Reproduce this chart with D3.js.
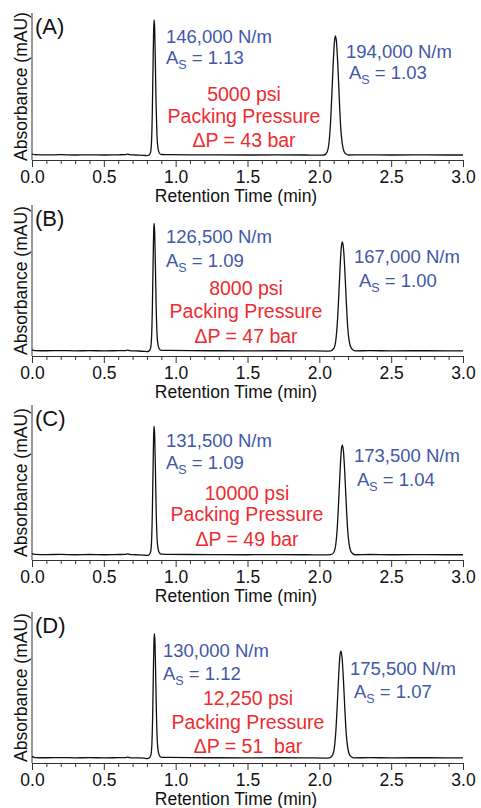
<!DOCTYPE html>
<html>
<head>
<meta charset="utf-8">
<script src="https://cdn.jsdelivr.net/npm/d3@7/dist/d3.min.js"></script>
<style>
  html, body { margin: 0; padding: 0; background: #fff; }
  svg { display: block; font-family: "Liberation Sans", Arial, sans-serif; }
</style>
</head>
<body>
<svg id="chart" width="481" height="808"></svg>
<script>
/* ── data ─────────────────────────────────────────────────────────── */
const panelLabels  = ['(A)', '(B)', '(C)', '(D)'];
const plates1      = ['146,000 N/m', '126,500 N/m', '131,500 N/m', '130,000 N/m'];
const asym1        = ['1.13', '1.09', '1.09', '1.12'];
const plates2      = ['194,000 N/m', '167,000 N/m', '173,500 N/m', '175,500 N/m'];
const asym2        = ['1.03', '1.00', '1.04', '1.07'];
const packingPsi   = ['5000 psi', '8000 psi', '10000 psi', '12,250 psi'];
const deltaP       = ['ΔP = 43 bar', 'ΔP = 47 bar', 'ΔP = 49 bar', 'ΔP = 51  bar'];

const xTicks      = [0.0, 0.5, 1.0, 1.5, 2.0, 2.5, 3.0];
const xMinorTicks = [0.1, 0.2, 0.3, 0.4, 0.6, 0.7, 0.8, 0.9, 1.1, 1.2, 1.3, 1.4,
                     1.6, 1.7, 1.8, 1.9, 2.1, 2.2, 2.3, 2.4, 2.6, 2.7, 2.8, 2.9];

/* chromatograms: [retention time (min), absorbance (mAU)] */
const traceA = [
  [0,1.0],[0.02,0.3],[0.1,0.1],[0.2,0.3],[0.3,0],[0.4,0.2],[0.5,0],[0.6,0.2],[0.65,0.3],[0.665,0.8],
  [0.68,0.3],[0.72,0],[0.78,-0.3],[0.80,-0.7],
  [0.815,0],[0.825,2.7],[0.832,13.5],[0.838,47],[0.843,94],[0.847,127],[0.850,135],[0.854,126],
  [0.859,89],[0.864,49],[0.870,19],[0.877,7],[0.886,2],[0.90,0.5],
  [0.95,0.4],[1.1,0.2],[1.3,0.1],[1.5,0],[1.7,0.1],[1.9,0],[2.0,-0.2],
  [2.032,0],[2.052,2.4],[2.067,12],[2.077,30],[2.087,60],[2.097,93],[2.105,113],[2.112,119],
  [2.120,112],[2.129,89],[2.139,56],[2.149,27],[2.160,11],[2.172,3.6],[2.187,1],[2.202,0],
  [2.3,0.2],[2.5,0],[2.7,0.1],[2.9,0],[3.0,0]
];
const traceB = [
  [0,1.0],[0.02,0.3],[0.1,0.1],[0.2,0.3],[0.3,0],[0.4,0.2],[0.5,0],[0.6,0.2],[0.65,0.3],[0.665,0.7],
  [0.68,0.3],[0.72,0],[0.78,-0.4],[0.80,-0.8],
  [0.815,0],[0.825,2.5],[0.832,12.4],[0.838,43],[0.843,87],[0.847,117],[0.850,124],[0.854,115],
  [0.859,82],[0.864,45],[0.870,17],[0.877,6],[0.886,2],[0.90,0.5],
  [0.95,0.4],[1.1,0.2],[1.3,0.1],[1.5,0],[1.7,0.1],[1.9,0],[2.05,-0.2],
  [2.080,0],[2.100,2.1],[2.115,10.6],[2.125,26.5],[2.135,53],[2.145,83],[2.153,101],[2.160,106],
  [2.168,100],[2.177,80],[2.187,50],[2.197,24],[2.208,9.5],[2.220,3.2],[2.235,0.8],[2.250,0],
  [2.35,0.2],[2.5,0],[2.7,0.1],[2.9,0],[3.0,0]
];
const traceC = [
  [0,1.0],[0.02,0.3],[0.1,0.1],[0.2,0.3],[0.3,0],[0.4,0.2],[0.5,0],[0.6,0.2],[0.65,0.3],[0.665,0.8],
  [0.68,0.3],[0.72,0],[0.78,-0.3],[0.80,-0.7],
  [0.815,0],[0.825,2.4],[0.832,12.2],[0.838,43],[0.843,85],[0.847,115],[0.850,122],[0.854,113],
  [0.859,81],[0.864,44],[0.870,17],[0.877,6],[0.886,2],[0.90,0.5],
  [0.95,0.4],[1.1,0.2],[1.3,0.1],[1.5,0],[1.7,0.1],[1.9,0],[2.05,-0.2],
  [2.080,0],[2.100,2.1],[2.115,10.4],[2.125,26],[2.135,52],[2.145,81],[2.153,99],[2.160,104],
  [2.168,98],[2.177,78],[2.187,49],[2.197,24],[2.208,9.4],[2.220,3.1],[2.235,0.8],[2.250,0],
  [2.35,0.2],[2.5,0],[2.7,0.1],[2.9,0],[3.0,0]
];
const traceD = [
  [0,1.5],[0.02,0.3],[0.1,0.1],[0.2,0.3],[0.3,0],[0.4,0.2],[0.5,0],[0.6,0.2],[0.65,0.3],[0.665,0.8],
  [0.68,0.3],[0.72,0],[0.78,-0.3],[0.80,-0.7],
  [0.817,0],[0.827,2.4],[0.834,12],[0.840,42],[0.845,85],[0.849,114],[0.852,121],[0.856,113],
  [0.861,80],[0.866,44],[0.872,17],[0.879,6],[0.888,2],[0.902,0.5],
  [0.95,0.4],[1.1,0.2],[1.3,0.1],[1.5,0],[1.7,0.1],[1.9,0],[2.04,-0.2],
  [2.070,0],[2.090,2.1],[2.105,10.4],[2.115,26],[2.125,52],[2.135,81],[2.143,99],[2.150,104],
  [2.158,98],[2.167,78],[2.177,49],[2.187,24],[2.198,9.4],[2.210,3.1],[2.225,0.8],[2.240,0],
  [2.35,0.2],[2.5,0],[2.7,0.1],[2.9,0],[3.0,0]
];
const traces = [traceA, traceB, traceC, traceD];

/* ── layout ───────────────────────────────────────────────────────── */
const FONT = '"Liberation Sans", Arial, sans-serif';
const BLUE = '#4157a8', RED = '#ee2b2f';
const X0 = 32, X1 = 463;
/* plot top and x-axis line per panel */
const panelBox = [
  { top: 13,  axis: 160 },
  { top: 205, axis: 356 },
  { top: 405, axis: 560 },
  { top: 612, axis: 763 },
];
/* annotation placement, offsets from the panel top */
const notePos = [
  { x1: 166, n1: 30, a1: 51, rx: 244, r: [88, 110, 134], x2: 346, xa2: 349, n2: 45, a2: 66 },
  { x1: 166, n1: 38, a1: 62, rx: 246, r: [90, 113, 138], x2: 354, xa2: 359, n2: 58, a2: 82 },
  { x1: 166, n1: 42, a1: 64, rx: 247, r: [95, 116, 141], x2: 354, xa2: 357, n2: 57, a2: 81 },
  { x1: 163, n1: 45, a1: 68, rx: 248, r: [93, 117, 141], x2: 350, xa2: 354, n2: 63, a2: 86 },
];

const svg = d3.select('#chart');
const x = d3.scaleLinear().domain([0, 3]).range([X0, X1]);

function asLabel(g, xPos, yPos, val) {
  const t = g.append('text').attr('x', xPos).attr('y', yPos)
    .attr('font-family', FONT).attr('font-size', 18.5).attr('fill', BLUE);
  t.append('tspan').text('A');
  t.append('tspan').attr('font-size', 12.5).attr('dy', 5).text('S');
  t.append('tspan').attr('dy', -5).text(' = ' + val);
}

traces.forEach((trace, i) => {
  const box = panelBox[i], np = notePos[i];
  const g = svg.append('g');
  const y = d3.scaleLinear().domain([-5, 142]).range([box.axis, box.top]);

  /* x axis: minor then major ticks */
  g.append('g').attr('transform', `translate(0,${box.axis})`)
    .call(d3.axisBottom(x).tickValues(xMinorTicks).tickSize(4).tickFormat(''))
    .call(a => a.select('.domain').remove())
    .call(a => a.selectAll('line').attr('stroke', '#333'));
  g.append('g').attr('transform', `translate(0,${box.axis})`)
    .call(d3.axisBottom(x).tickValues(xTicks).tickSizeInner(7).tickSizeOuter(0)
      .tickPadding(4).tickFormat(d3.format('.1f')))
    .call(a => a.select('.domain').attr('stroke', '#333'))
    .call(a => a.selectAll('line').attr('stroke', '#333'))
    .call(a => a.selectAll('text').attr('font-family', FONT).attr('font-size', 17.5)
      .attr('fill', '#111'));

  /* y axis line (no ticks) */
  g.append('line').attr('x1', X0).attr('x2', X0).attr('y1', box.top).attr('y2', box.axis)
    .attr('stroke', '#333').attr('stroke-width', 1);

  /* axis titles */
  g.append('text').attr('x', 236).attr('y', box.axis + 42)
    .attr('text-anchor', 'middle').attr('font-family', FONT).attr('font-size', 17.5)
    .attr('fill', '#111').text('Retention Time (min)');
  g.append('text')
    .attr('transform', `translate(26.5,${(box.top + box.axis) / 2}) rotate(-90)`)
    .attr('text-anchor', 'middle').attr('font-family', FONT).attr('font-size', 17.5)
    .attr('fill', '#111').text('Absorbance (mAU)');

  /* chromatogram */
  const line = d3.line().x(d => x(d[0])).y(d => y(d[1])).curve(d3.curveMonotoneX);
  g.append('path').datum(trace).attr('d', line)
    .attr('fill', 'none').attr('stroke', '#111').attr('stroke-width', 1.3)
    .attr('stroke-linejoin', 'round');

  /* panel label */
  g.append('text').attr('x', 35).attr('y', box.top + 21)
    .attr('font-family', FONT).attr('font-size', 22).attr('fill', '#111')
    .text(panelLabels[i]);

  /* peak annotations */
  g.append('text').attr('x', np.x1).attr('y', box.top + np.n1)
    .attr('font-family', FONT).attr('font-size', 18.5).attr('fill', BLUE).text(plates1[i]);
  asLabel(g, np.x1, box.top + np.a1, asym1[i]);
  g.append('text').attr('x', np.x2).attr('y', box.top + np.n2)
    .attr('font-family', FONT).attr('font-size', 18.5).attr('fill', BLUE).text(plates2[i]);
  asLabel(g, np.xa2, box.top + np.a2, asym2[i]);

  [packingPsi[i], 'Packing Pressure', deltaP[i]].forEach((s, k) => {
    g.append('text').attr('x', np.rx).attr('y', box.top + np.r[k])
      .attr('text-anchor', 'middle').attr('font-family', FONT).attr('font-size', 19.5)
      .attr('fill', RED).style('white-space', 'pre').text(s);
  });
});
</script>
</body>
</html>
